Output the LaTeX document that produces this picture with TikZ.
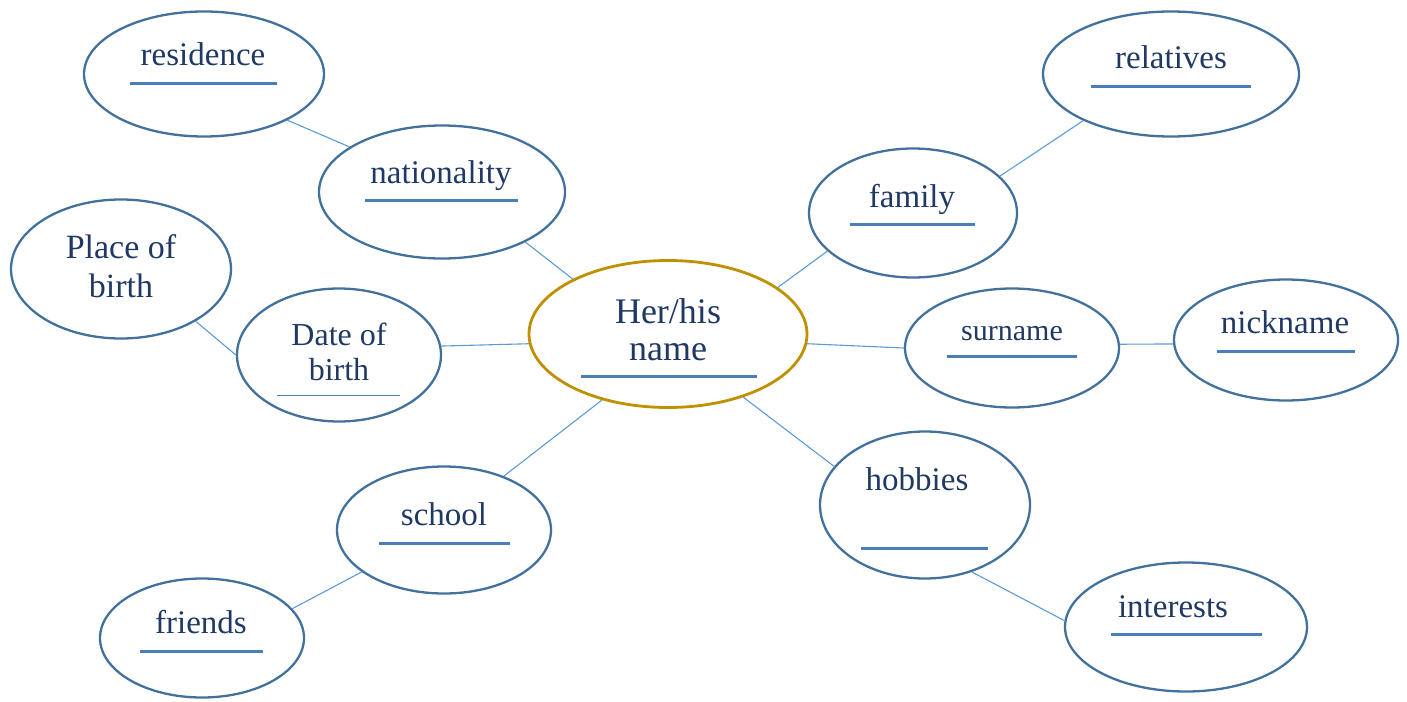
\documentclass[tikz,border=0pt]{standalone}
\usepackage{fontspec}
\setmainfont{Liberation Serif}
\usetikzlibrary{shapes.geometric,positioning}
\definecolor{bubbleline}{HTML}{41719C}
\definecolor{bubbletext}{HTML}{1F3864}
\definecolor{blankline}{HTML}{4A7EBB}
\definecolor{linkline}{HTML}{5B9BD5}
\definecolor{rootline}{HTML}{BF9000}
\tikzset
{
    bubble/.style   = {ellipse, draw=bubbleline, line width=2.3pt, inner sep=0pt},
    rootbubble/.style = {ellipse, draw=rootline, line width=2.8pt, inner sep=0pt},
    word/.style     = {text=bubbletext, font=\fontsize{33}{39}\selectfont, inner sep=0pt, align=center},
    blank/.style    = {draw=blankline, line width=3pt},
    link/.style     = {draw=linkline, line width=1.1pt}
}
\begin{document}
\begin{tikzpicture}[x=1pt,y=-1pt]
    \useasboundingbox (0,0) rectangle (1407,701);
    \node [rootbubble, minimum width=278pt, minimum height=147pt] (name) at (668,334) {};
    \node [bubble, minimum width=240pt, minimum height=125pt] (residence) at (204,74) {};
    \node [bubble, minimum width=246pt, minimum height=133pt] (nationality) at (442,192) {};
    \node [bubble, minimum width=220pt, minimum height=139pt] (place) at (121,269) {};
    \node [bubble, minimum width=204pt, minimum height=133pt] (date) at (339,355) {};
    \node [bubble, minimum width=214pt, minimum height=127pt] (school) at (444,530) {};
    \node [bubble, minimum width=204pt, minimum height=119pt] (friends) at (202,638) {};
    \node [bubble, minimum width=208pt, minimum height=129pt] (family) at (913,213) {};
    \node [bubble, minimum width=256pt, minimum height=125pt] (relatives) at (1171,74) {};
    \node [bubble, minimum width=214pt, minimum height=119pt] (surname) at (1012,348) {};
    \node [bubble, minimum width=224pt, minimum height=121pt] (nickname) at (1286,340) {};
    \node [bubble, minimum width=210pt, minimum height=147pt] (hobbies) at (925,505) {};
    \node [bubble, minimum width=242pt, minimum height=129pt] (interests) at (1186,627) {};

    \node [word, anchor=base] (residence-t) at (203,66) {residence};
    \node [word, anchor=base] (nationality-t) at (441,183) {nationality};
    \node [word, font=\fontsize{34}{39}\selectfont] (place-t) at (121,266) {Place of\\birth};
    \node [word, font=\fontsize{32}{35}\selectfont] (date-t) at (339,352) {Date of\\birth};
    \node [word, font=\fontsize{36}{37}\selectfont] (name-t) at (668,330) {Her/his\\name};
    \node [word, anchor=base] (school-t) at (444,525) {school};
    \node [word, anchor=base] (friends-t) at (201,633) {friends};
    \node [word, anchor=base] (family-t) at (912,207) {family};
    \node [word, anchor=base] (relatives-t) at (1171,68) {relatives};
    \node [word, anchor=base, font=\fontsize{30}{36}\selectfont] (surname-t) at (1012,340) {surname};
    \node [word, anchor=base] (nickname-t) at (1285,333) {nickname};
    \node [word, anchor=base] (hobbies-t) at (917,490) {hobbies};
    \node [word, anchor=base] (interests-t) at (1173,617) {interests};

    \draw [blank] (130,83) -- (277,83);
    \draw [blank] (365,200) -- (518,200);
    \draw [draw=blankline, line width=1pt] (277,395) -- (400,395);
    \draw [blank] (581,376) -- (757,376);
    \draw [blank] (379,543) -- (510,543);
    \draw [blank] (140,651) -- (263,651);
    \draw [blank] (850,224) -- (975,224);
    \draw [blank] (1091,86) -- (1251,86);
    \draw [blank] (947,356) -- (1077,356);
    \draw [blank] (1217,351) -- (1355,351);
    \draw [blank] (861,548) -- (988,548);
    \draw [blank] (1111,634) -- (1262,634);

    \draw [link] (residence.-29) -- (nationality.154);
    \draw [link] (nationality.-31) -- (name.150);
    \draw [link] (place.-35) -- (date.180);
    \draw [link] (date.5) -- (name.184);
    \draw [link] (name.225) -- (school.42);
    \draw [link] (school.207) -- (friends.18);
    \draw [link] (name.23) -- (family.204);
    \draw [link] (family.23) -- (relatives.208);
    \draw [link] (name.-4) -- (surname.180);
    \draw [link] (surname.2) -- (nickname.182);
    \draw [link] (name.-40) -- (hobbies.157);
    \draw [link] (hobbies.-55) -- (interests.177);
\end{tikzpicture}
\end{document}
